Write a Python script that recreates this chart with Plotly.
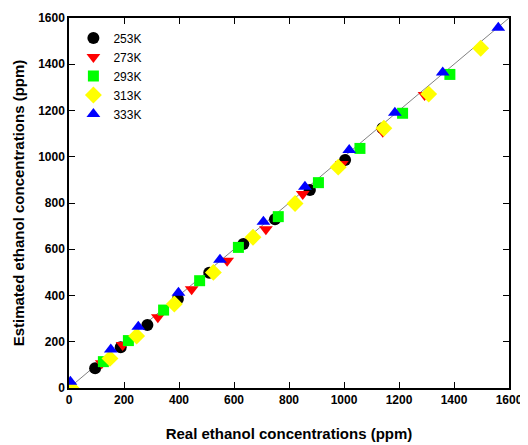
import plotly.graph_objects as go

# 253K (black circles)
x_253 = [95, 188, 285, 396, 510, 634, 749, 876, 1004, 1140]
y_253 = [85, 176, 272, 385, 498, 623, 730, 856, 986, 1123]
# 273K (red down triangles)
x_273 = [119, 195, 323, 446, 575, 716, 850, 992, 1141, 1293]
y_273 = [107, 186, 306, 427, 550, 686, 839, 969, 1108, 1267]
# 293K (green squares)
x_293 = [125, 216, 344, 475, 616, 761, 907, 1058, 1213, 1385]
y_293 = [114, 205, 337, 464, 608, 741, 888, 1036, 1188, 1356]
# 313K (yellow diamonds)
x_313 = [8, 149, 246, 383, 525, 669, 822, 979, 1145, 1308, 1497]
y_313 = [0, 128, 225, 363, 500, 652, 798, 955, 1123, 1271, 1469]
# 333K (blue up triangles)
x_333 = [5, 152, 252, 398, 549, 707, 858, 1019, 1185, 1359, 1561]
y_333 = [27, 167, 265, 412, 555, 719, 870, 1029, 1190, 1364, 1558]

ideal = [0, 1600]
ticks = [0, 200, 400, 600, 800, 1000, 1200, 1400, 1600]

fig = go.Figure()
fig.add_trace(go.Scatter(x=ideal, y=ideal, mode="lines",
                         line=dict(color="#808080", width=1), showlegend=False))

series = [
    ("253K", x_253, y_253, "circle", "#000000", 12),
    ("273K", x_273, y_273, "triangle-down", "#ff0000", 12),
    ("293K", x_293, y_293, "square", "#00ff00", 11),
    ("313K", x_313, y_313, "diamond", "#ffff00", 13),
    ("333K", x_333, y_333, "triangle-up", "#0000ff", 12),
]
for name, xs, ys, sym, col, sz in series:
    fig.add_trace(go.Scatter(x=xs, y=ys, mode="markers", name=name,
                             marker=dict(symbol=sym, color=col, size=sz,
                                         line=dict(width=0))))

axis_common = dict(range=[0, 1600], tickvals=ticks, ticks="inside", ticklen=6,
                   tickwidth=1, tickcolor="black", showline=True, linecolor="black",
                   linewidth=1.5, mirror="ticks", showgrid=False, zeroline=False,
                   automargin=False,
                   tickfont=dict(family="Liberation Sans, Arial", size=12,
                                 color="black", weight="bold"))

fig.update_xaxes(**axis_common,
                 title=dict(text="<b>Real ethanol concentrations (ppm)</b>",
                            font=dict(family="Liberation Sans, Arial", size=15, color="black"),
                            standoff=22))
fig.update_yaxes(**axis_common,
                 title=dict(text="<b>Estimated ethanol concentrations (ppm)</b>",
                            font=dict(family="Liberation Sans, Arial", size=15, color="black"),
                            standoff=10))

fig.update_layout(
    width=520, height=437,
    margin=dict(l=61, r=19, t=10, b=57),
    plot_bgcolor="white", paper_bgcolor="white",
    font=dict(family="Liberation Sans, Arial", color="black"),
    legend=dict(x=0.01, y=0.985, xanchor="left", yanchor="top",
                bgcolor="rgba(0,0,0,0)", font=dict(size=12, color="black"),
                tracegroupgap=0, itemwidth=30),
)

fig.write_html("out.html")
